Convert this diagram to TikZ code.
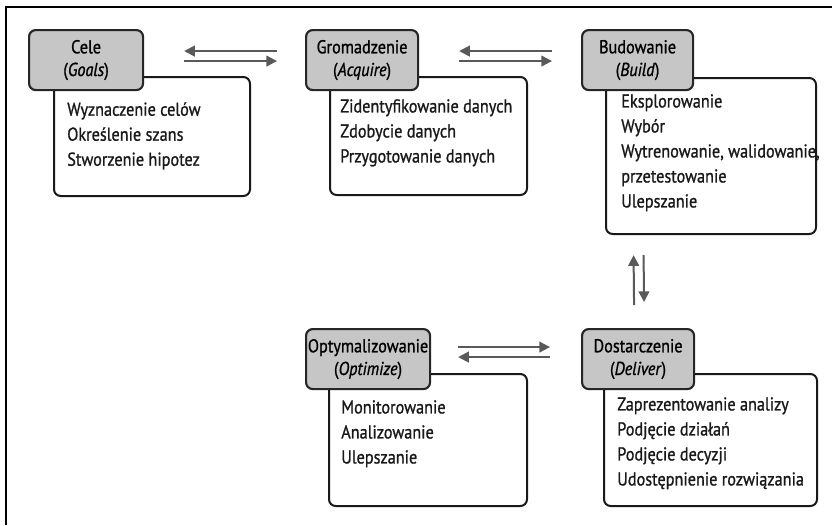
\documentclass[tikz,border=0pt]{standalone}
\usepackage{fontspec}
\setmainfont{PT Sans}[FakeStretch=0.87, FakeBold=1.0]
\usetikzlibrary{arrows.meta, positioning}
\newdimen\px \px=0.75pt

\begin{document}
\begin{tikzpicture}[x=0.75pt, y=-0.75pt,
     head/.style = {draw=black!85, line width=1.6pt, fill=gray!45,
                    rounded corners=5pt, align=center, inner sep=0pt,
                    anchor=north west, minimum height=60\px,
                    font=\fontsize{14}{17}\selectfont},
     body/.style = {draw=black!90, line width=1.5pt, fill=white,
                    rounded corners=5pt, inner sep=0pt, anchor=north west},
    items/.style = {align=left, inner sep=0pt, anchor=north west,
                    text=black!90, font=\fontsize{14}{18.75}\selectfont},
     flow/.style = {-{Triangle[length=8pt, width=8pt]}, line width=1.5pt,
                    draw=black!65, fill=black!65}
                    ]
\useasboundingbox (0,0) rectangle (832,525);
\draw[line width=1.9pt] (6,525) -- (6,7) -- (832,7);

 % bodies first, headers lie on top
\node (celeB) [body, minimum width=196\px, minimum height=119\px] at (53,76)  {};
\node (gromB) [body, minimum width=197\px, minimum height=118\px] at (329,76) {};
\node (budB)  [body, minimum width=210\px, minimum height=156\px] at (605,77) {};
\node (optB)  [body, minimum width=198\px, minimum height=132\px] at (328,373) {};
\node (delB)  [body, minimum width=213\px, minimum height=132\px] at (603,373) {};

\node (celeH) [head, minimum width=114\px] at (28,29)   {Cele\\(\textit{Goals})};
\node (gromH) [head, minimum width=112\px] at (305,29)  {Gromadzenie\\(\textit{Acquire})};
\node (budH)  [head, minimum width=111\px] at (581,29)  {Budowanie\\(\textit{Build})};
\node (optH)  [head, minimum width=124\px] at (305,328) {Optymalizowanie\\(\textit{Optimize})};
\node (delH)  [head, minimum width=112\px] at (581,328) {Dostarczenie\\(\textit{Deliver})};

\node (celeL) [items] at (67,102)  {Wyznaczenie celów\\Określenie szans\\Stworzenie hipotez};
\node (gromL) [items] at (340,99)  {Zidentyfikowanie danych\\Zdobycie danych\\Przygotowanie danych};
\node (budL)  [items] at (621,94)  {Eksplorowanie\\Wybór\\Wytrenowanie, walidowanie,\\przetestowanie\\Ulepszanie};
\node (optL)  [items] at (341,400) {Monitorowanie\\Analizowanie\\Ulepszanie};
\node (delL)  [items] at (617,397) {Zaprezentowanie analizy\\Podjęcie działań\\Podjęcie decyzji\\Udostępnienie rozwiązania};

 % connectors
\draw[flow] ([shift={(-28,-9)}]gromH.west) -- ([shift={(40,-9)}]celeH.east);
\draw[flow] ([shift={(40,1)}]celeH.east) -- ([shift={(-28,1)}]gromH.west);
\draw[flow] ([shift={(-29,-9)}]budH.west) -- ([shift={(40,-9)}]gromH.east);
\draw[flow] ([shift={(40,1)}]gromH.east) -- ([shift={(-29,1)}]budH.west);

\draw[flow] ([shift={(-4,-23)}]delH.north) -- ([shift={(-4,164)}]budH.south);
\draw[flow] ([shift={(6,164)}]budH.south) -- ([shift={(6,-26)}]delH.north);

\draw[flow] ([shift={(27,-12)}]optH.east) -- ([shift={(-31,-12)}]delH.west);
\draw[flow] ([shift={(-31,-2)}]delH.west) -- ([shift={(27,-2)}]optH.east);
\end{tikzpicture}
\end{document}
